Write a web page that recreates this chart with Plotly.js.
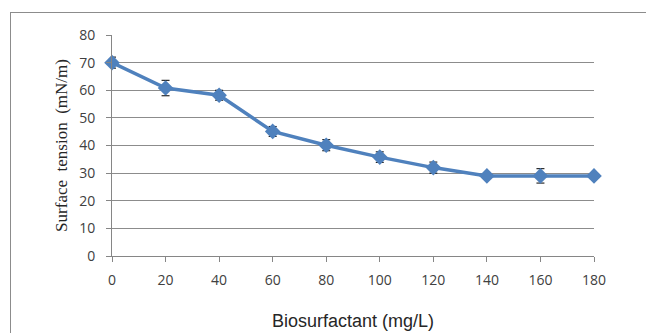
<!DOCTYPE html>
<html>
<head>
<meta charset="utf-8">
<script src="https://cdn.plot.ly/plotly-3.0.1.min.js"></script>
<style>
html,body{margin:0;padding:0;background:#fff;overflow:hidden;}
#frame{position:absolute;left:10px;top:12px;width:800px;height:500px;border:1px solid #8c8c8c;box-sizing:border-box;}
#chart{position:absolute;left:0;top:0;width:646px;height:333px;}
</style>
</head>
<body>
<div id="frame"></div>
<div id="chart"></div>
<script>
const concentration = [0, 20, 40, 60, 80, 100, 120, 140, 160, 180];
const surfaceTension = [70, 60.8, 58.2, 45.1, 40.1, 35.8, 32, 29, 29, 29];
const errorValues = [2, 2.8, 1.8, 1.8, 2, 1.9, 2, 0, 2.6, 0];
const xTicks = [0, 20, 40, 60, 80, 100, 120, 140, 160, 180];
const yTicks = [0, 10, 20, 30, 40, 50, 60, 70, 80];

const trace = {
  x: concentration,
  y: surfaceTension,
  type: 'scatter',
  mode: 'lines+markers',
  line: {color: '#4F81BD', width: 3.5},
  marker: {symbol: 'diamond', size: 12, color: '#4F81BD'},
  error_y: {type: 'data', array: errorValues, visible: true, color: '#000000', thickness: 1, width: 4},
  cliponaxis: false
};

const tickFont = {family: 'Open Sans, sans-serif', size: 14, color: '#404040'};
const layout = {
  width: 646, height: 333,
  margin: {l: 112, r: 52, t: 35, b: 77},
  paper_bgcolor: 'rgba(0,0,0,0)',
  plot_bgcolor: 'rgba(0,0,0,0)',
  showlegend: false,
  xaxis: {
    range: [0, 180],
    tickvals: xTicks,
    ticktext: xTicks.map(String),
    showgrid: false,
    zeroline: false,
    showline: true, linecolor: '#868686', linewidth: 1,
    ticks: 'outside', ticklen: 5, tickcolor: '#868686',
    ticklabelstandoff: 6,
    tickfont: tickFont,
    title: {text: 'Biosurfactant (mg/L)', font: {family: 'Liberation Sans, Arial, sans-serif', size: 18, color: '#262626'}, standoff: 26}
  },
  yaxis: {
    range: [0, 80],
    tickvals: yTicks,
    ticktext: yTicks.map(String),
    showgrid: true, gridcolor: '#8c8c8c', gridwidth: 1,
    zeroline: false,
    showline: true, linecolor: '#868686', linewidth: 1,
    ticks: 'outside', ticklen: 5, tickcolor: '#868686',
    ticklabelstandoff: 8,
    tickfont: tickFont,
    title: {text: 'Surface&nbsp;&nbsp;tension&nbsp;&nbsp;(mN/m)', font: {family: 'Liberation Serif, Times New Roman, serif', size: 17, color: '#262626'}, standoff: 7}
  }
};

Plotly.newPlot('chart', [trace], layout, {displayModeBar: false, staticPlot: true});
</script>
</body>
</html>
